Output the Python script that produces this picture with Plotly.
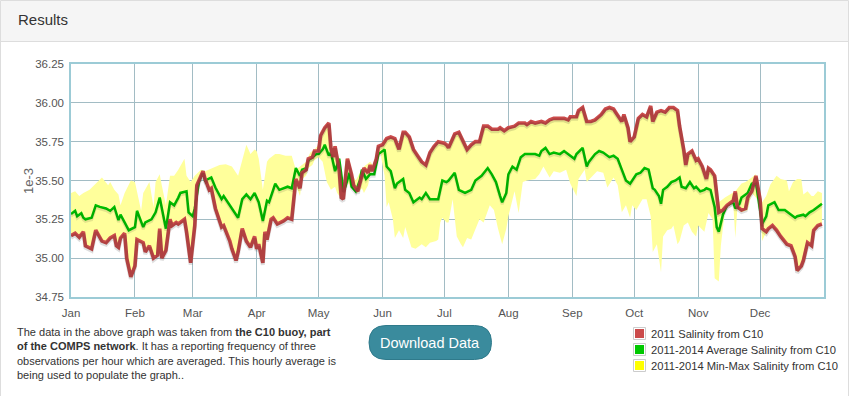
import plotly.graph_objects as go

# ---------------- data (day of year 2011, value) ----------------
MONTH_START_DAYS = [0, 31, 59, 90, 120, 151, 181, 212, 243, 273, 304, 334]
MONTH_LABELS = ["Jan", "Feb", "Mar", "Apr", "May", "Jun", "Jul", "Aug", "Sep", "Oct", "Nov", "Dec"]
Y_TICKS = [34.75, 35.00, 35.25, 35.50, 35.75, 36.00, 36.25]

RED_DAYS = [0, 2, 4, 6, 7, 10, 12, 14, 15, 17, 19, 21, 22, 23, 24, 26, 27, 29, 31, 32, 35, 36, 38, 40, 42, 43, 44, 46,
            48, 49, 51, 52, 55, 56, 58, 60, 61, 64, 65, 67, 68, 70, 73, 74, 77, 78, 80, 81, 83, 85, 87, 89, 90, 91, 93,
            94, 95, 97, 98, 100, 103, 105, 107, 109, 111, 112, 114, 115, 117, 118, 120, 121, 123, 125, 126, 127, 128,
            130, 131, 132, 134, 136, 137, 139, 141, 142, 144, 145, 146, 148, 149, 151, 153, 155, 157, 159, 161, 162,
            164, 166, 168, 170, 172, 174, 176, 178, 181, 182, 183, 185, 186, 188, 189, 190, 192, 194, 196, 198, 200,
            202, 204, 207, 208, 210, 212, 215, 217, 220, 221, 223, 225, 228, 230, 232, 234, 237, 239, 241, 242, 245,
            246, 248, 250, 252, 254, 257, 259, 261, 263, 264, 267, 268, 270, 271, 273, 275, 277, 279, 281, 282, 284,
            286, 288, 290, 292, 294, 295, 297, 298, 299, 301, 303, 304, 306, 308, 309, 310, 312, 314, 316, 318, 321,
            322, 323, 325, 327, 328, 330, 332, 334, 335, 337, 338, 340, 342, 344, 347, 349, 351, 352, 354, 355, 357,
            359, 360, 362, 364]
RED_VALS = [35.145, 35.16, 35.135, 35.17, 35.08, 35.06, 35.18, 35.13, 35.11, 35.10, 35.13, 35.145, 35.08, 35.07, 35.13,
            35.16, 35.00, 34.88, 34.95, 35.12, 35.10, 35.04, 35.08, 35.00, 35.02, 35.19, 35.00, 35.05,
            35.25, 35.21, 35.23, 35.22, 35.25, 35.17, 34.97, 35.21, 35.47, 35.56, 35.51, 35.44, 35.45, 35.32, 35.20,
            35.21, 35.11, 35.06, 34.985, 35.04, 35.19, 35.11, 35.07, 35.14, 35.06, 35.09, 34.97,
            35.17, 35.12, 35.25, 35.26, 35.22, 35.24, 35.26, 35.25, 35.51, 35.45, 35.55, 35.57, 35.64, 35.65, 35.69,
            35.69, 35.79, 35.84, 35.87, 35.71, 35.65, 35.72,
            35.57, 35.39, 35.38, 35.64, 35.54, 35.47, 35.43, 35.54, 35.58, 35.55, 35.60, 35.56, 35.64, 35.72, 35.73,
            35.77, 35.78, 35.77, 35.70, 35.81, 35.81,
            35.78, 35.70, 35.66, 35.62, 35.60, 35.68, 35.72, 35.75, 35.74, 35.73, 35.71, 35.78, 35.80, 35.81, 35.78,
            35.75, 35.70, 35.73, 35.75, 35.75, 35.85,
            35.85, 35.83, 35.83, 35.84, 35.82, 35.84, 35.85, 35.87, 35.87, 35.86, 35.88, 35.87, 35.88, 35.87, 35.89,
            35.90, 35.90, 35.90, 35.89, 35.91, 35.91,
            35.95, 35.97, 35.88, 35.88, 35.89, 35.925, 35.96, 35.97, 35.96, 35.94, 35.88, 35.925, 35.84, 35.75, 35.78,
            35.90, 35.925, 35.91, 35.98, 35.88, 35.94,
            35.95, 35.94, 35.97, 35.97, 35.95, 35.85, 35.70, 35.60, 35.67, 35.69, 35.63, 35.64, 35.59, 35.51, 35.58,
            35.57, 35.53, 35.295, 35.31, 35.34, 35.37,
            35.43, 35.33, 35.31, 35.32, 35.39, 35.43, 35.53, 35.38, 35.19, 35.17, 35.19, 35.21, 35.18, 35.14, 35.09,
            35.08, 35.01, 34.92, 34.95, 34.985, 35.10,
            35.08, 35.18, 35.21, 35.22]

GREEN_DAYS = [0, 2, 3, 5, 6, 7, 10, 12, 14, 17, 19, 21, 23, 24, 26, 28, 31, 32, 35, 36, 39, 41, 43, 44, 46, 48, 50, 52,
              53, 56, 57, 59, 60, 62, 64, 65, 68, 70, 73, 74, 77, 79, 81, 83, 85, 87, 89, 91, 93, 95, 96, 98, 99, 101,
              103, 105, 107, 109, 111, 112, 114, 115, 117, 119, 120, 122, 123, 125, 126, 128, 130, 132, 133, 135, 136,
              138, 140, 141, 143, 145, 147, 149, 152, 153, 155, 157, 158, 161, 162, 164, 166, 169, 170, 172, 174, 176,
              178, 180, 182, 183, 185, 186, 188, 190, 191, 194, 196, 199, 202, 204, 206, 208, 209, 211, 212, 214, 216,
              218, 220, 223, 225, 227, 228, 230, 232, 234, 237, 239, 241, 244, 245, 248, 250, 251, 254, 256, 258, 261,
              263, 265, 267, 269, 271, 272, 274, 276, 278, 280, 282, 283, 285, 286, 287, 289, 291, 293, 295, 296, 298,
              300, 302, 303, 305, 307, 308, 310, 312, 313, 314, 316, 318, 321, 322, 324, 325, 328, 330, 332, 334, 335,
              337, 338, 341, 343, 346, 348, 351, 352, 355, 356, 358, 360, 361, 364]
GREEN_VALS = [35.284, 35.305, 35.27, 35.29, 35.26, 35.25, 35.26, 35.34, 35.33, 35.32, 35.305, 35.33, 35.245, 35.28,
              35.23, 35.18, 35.20, 35.305, 35.20, 35.23, 35.25, 35.295, 35.39, 35.32, 35.19, 35.36, 35.34, 35.39,
              35.42, 35.43, 35.295, 35.27, 35.32, 35.49, 35.56, 35.50, 35.52, 35.455, 35.38, 35.40, 35.34, 35.295,
              35.26, 35.38, 35.41, 35.38, 35.42, 35.36, 35.24, 35.37, 35.36, 35.44, 35.48, 35.44,
              35.45, 35.46, 35.45, 35.58, 35.53, 35.57, 35.58, 35.63, 35.65, 35.67, 35.67, 35.70, 35.73, 35.66, 35.68,
              35.56, 35.64, 35.44, 35.46, 35.55, 35.46,
              35.43, 35.50, 35.57, 35.51, 35.54, 35.54, 35.67, 35.70, 35.59, 35.56, 35.45, 35.48, 35.51, 35.44, 35.42,
              35.36, 35.39, 35.38, 35.42, 35.38, 35.38,
              35.38, 35.50, 35.49, 35.50, 35.53, 35.55, 35.44, 35.43, 35.42, 35.44, 35.50, 35.53, 35.58, 35.54, 35.49,
              35.40, 35.36, 35.42, 35.54, 35.59, 35.57,
              35.65, 35.67, 35.67, 35.67, 35.66, 35.69, 35.71, 35.67, 35.68, 35.67, 35.69, 35.67, 35.64, 35.67, 35.71,
              35.59, 35.62, 35.67, 35.69, 35.68, 35.65,
              35.66, 35.64, 35.57, 35.50, 35.48, 35.50, 35.54, 35.55, 35.58, 35.57, 35.45, 35.44, 35.40, 35.35, 35.44,
              35.46, 35.49, 35.50, 35.52, 35.46, 35.45,
              35.49, 35.45, 35.46, 35.43, 35.44, 35.45, 35.44, 35.33, 35.20, 35.17, 35.28, 35.34, 35.36, 35.32, 35.35,
              35.39, 35.42, 35.48, 35.49, 35.295, 35.22,
              35.27, 35.34, 35.36, 35.31, 35.31, 35.29, 35.26, 35.27, 35.28, 35.27, 35.295, 35.31, 35.32, 35.35]

MAX_DAYS = [0, 2, 4, 6, 9, 12, 15, 18, 19, 21, 23, 24, 26, 29, 31, 34, 35, 38, 40, 41, 43, 44, 46, 48, 50, 52, 55, 56,
            58, 60, 63, 65, 69, 72, 75, 78, 81, 83, 85, 87, 89, 90, 91, 93, 95, 96, 99, 101, 104, 107, 109, 111, 114,
            116, 118, 120, 122, 124, 125, 127, 128, 130, 132, 133, 135, 136, 138, 140, 142, 145, 147, 149, 150, 152,
            153, 155, 157, 159, 161, 162, 164, 166, 168, 170, 172, 174, 176, 178, 181, 182, 183, 185, 186, 188, 189,
            190, 192, 194, 196, 198, 200, 202, 204, 207, 208, 210, 212, 215, 217, 220, 221, 223, 225, 228, 230, 232,
            234, 237, 239, 241, 242, 245, 246, 248, 250, 252, 254, 257, 259, 261, 263, 264, 267, 268, 270, 271, 273,
            275, 277, 279, 281, 282, 284, 286, 288, 290, 292, 294, 295, 297, 298, 299, 301, 303, 304, 306, 308, 309,
            310, 312, 314, 317, 322, 325, 327, 329, 332, 334, 335, 337, 339, 342, 344, 347, 348, 350, 352, 354, 355,
            357, 359, 360, 362, 364]
MAX_VALS = [35.42, 35.43, 35.40, 35.42, 35.44, 35.48, 35.52, 35.47, 35.49, 35.44, 35.41, 35.34, 35.42, 35.50, 35.49,
            35.305, 35.42, 35.49, 35.33, 35.49, 35.54, 35.47, 35.34, 35.53, 35.53, 35.57, 35.64, 35.53,
            35.49, 35.53, 35.57, 35.56, 35.58, 35.60, 35.605, 35.59, 35.53, 35.64, 35.73, 35.67, 35.70, 35.69, 35.64,
            35.44, 35.62, 35.64, 35.67, 35.67, 35.66, 35.66, 35.57, 35.59, 35.62,
            35.68, 35.70, 35.73, 35.80, 35.85, 35.87, 35.68, 35.73, 35.64, 35.47, 35.64, 35.64, 35.54, 35.50, 35.55,
            35.59, 35.62, 35.59, 35.68, 35.73, 35.74,
            35.77, 35.78, 35.77, 35.70, 35.81, 35.81, 35.78, 35.70, 35.66, 35.62, 35.60, 35.68, 35.72, 35.75, 35.74,
            35.73, 35.71, 35.78, 35.80, 35.81, 35.78,
            35.75, 35.70, 35.73, 35.75, 35.75, 35.85, 35.85, 35.83, 35.83, 35.84, 35.82, 35.84, 35.85, 35.87, 35.87,
            35.86, 35.88, 35.87, 35.88, 35.87, 35.89,
            35.90, 35.90, 35.90, 35.89, 35.91, 35.91, 35.95, 35.97, 35.88, 35.88, 35.89, 35.925, 35.96, 35.97, 35.96,
            35.94, 35.88, 35.925, 35.84, 35.75, 35.78,
            35.90, 35.925, 35.91, 35.98, 35.88, 35.94, 35.95, 35.94, 35.97, 35.97, 35.95, 35.85, 35.70, 35.60, 35.67,
            35.69, 35.63, 35.64, 35.59, 35.51, 35.58,
            35.57, 35.53, 35.36, 35.39, 35.43, 35.48, 35.49, 35.51, 35.54, 35.40, 35.36, 35.40, 35.475, 35.53, 35.51,
            35.50, 35.43, 35.49, 35.51, 35.51, 35.41,
            35.43, 35.40, 35.40, 35.43, 35.42]

MIN_DAYS = [0, 2, 4, 6, 7, 10, 12, 14, 15, 17, 19, 21, 22, 23, 24, 26, 27, 29, 31, 32, 35, 36, 38, 40, 42, 43, 44, 46,
            48, 49, 51, 52, 55, 56, 58, 60, 61, 64, 65, 67, 68, 70, 73, 74, 77, 78, 80, 81, 83, 85, 87, 89, 90, 91, 93,
            94, 95, 97, 98, 100, 103, 105, 107, 109, 111, 112, 114, 115, 117, 118, 120, 122, 124, 126, 128, 129, 131,
            132, 134, 136, 137, 139, 141, 142, 144, 145, 148, 150, 152, 153, 154, 156, 157, 159, 161, 162, 165, 167,
            170, 172, 174, 177, 178, 179, 180, 182, 183, 185, 187, 189, 190, 192, 194, 196, 198, 200, 203, 205, 207,
            209, 211, 212, 215, 217, 219, 221, 225, 227, 229, 232, 234, 237, 240, 242, 245, 246, 249, 250, 253, 255,
            258, 260, 263, 265, 267, 269, 271, 272, 274, 275, 277, 279, 281, 282, 284, 286, 287, 289, 291, 292, 294,
            295, 297, 299, 301, 303, 304, 307, 309, 311, 312, 314, 315, 317, 319, 321, 322, 323, 325, 328, 330, 334,
            335, 336, 337, 338, 340, 342, 344, 347, 349, 351, 352, 354, 355, 357, 359, 360, 362, 364]
MIN_VALS = [35.145, 35.16, 35.135, 35.17, 35.08, 35.06, 35.18, 35.13, 35.11, 35.10, 35.13, 35.145, 35.08, 35.07, 35.13,
            35.16, 35.00, 34.88, 34.95, 35.12, 35.10, 35.04, 35.08, 35.00, 35.02, 35.19, 35.00, 35.05,
            35.25, 35.21, 35.23, 35.22, 35.25, 35.17, 34.97, 35.21, 35.45, 35.54, 35.49, 35.43, 35.44, 35.32, 35.20,
            35.21, 35.11, 35.06, 34.985, 35.04, 35.19, 35.11, 35.07, 35.14, 35.06, 35.09, 34.97,
            35.17, 35.12, 35.25, 35.26, 35.22, 35.24, 35.26, 35.25, 35.47, 35.40, 35.51, 35.53, 35.58, 35.60, 35.63,
            35.65, 35.62, 35.49, 35.44, 35.46, 35.42, 35.385,
            35.38, 35.49, 35.45, 35.44, 35.42, 35.45, 35.42, 35.47, 35.54, 35.59, 35.675, 35.53, 35.33, 35.36, 35.25,
            35.13, 35.18, 35.13, 35.20, 35.07, 35.06,
            35.09, 35.07, 35.10, 35.11, 35.12, 35.23, 35.26, 35.23, 35.23, 35.38, 35.14, 35.09, 35.07, 35.13, 35.12,
            35.19, 35.25, 35.23, 35.34, 35.31, 35.19,
            35.09, 35.19, 35.27, 35.43, 35.29, 35.49, 35.50, 35.51, 35.54, 35.59, 35.52, 35.56, 35.55, 35.57, 35.48,
            35.40, 35.51, 35.57, 35.49, 35.53, 35.56,
            35.55, 35.455, 35.52, 35.47, 35.295, 35.34, 35.26, 35.34, 35.31, 35.33, 35.38, 35.38, 35.27, 35.04, 35.09,
            34.91, 35.14, 35.18, 35.19, 35.21, 35.09,
            35.11, 35.21, 35.23, 35.17, 35.14, 35.21, 35.17, 35.29, 35.25, 34.87, 34.85, 35.08, 35.31, 35.34, 35.36,
            35.13, 35.32, 35.295, 35.31, 35.42, 35.36,
            35.11, 35.14, 35.16, 35.18, 35.20, 35.17, 35.13, 35.08, 35.07, 35.00, 34.91, 34.94, 34.975, 35.09, 35.07,
            35.17, 35.20, 35.21]

LEGEND_LABELS = ["2011 Salinity from C10", "2011-2014 Average Salinity from C10", "2011-2014 Min-Max Salinity from C10"]
LEGEND_COLORS = ["#cb4b4b", "#00c800", "#ffff00"]

# ---------------- layout helpers (pixel -> paper) ----------------
W, H = 850, 396
ML, MR, MT, MB = 71, 26, 64, 99
PW, PH = W - ML - MR, H - MT - MB


def px(x):
    return (x - ML) / PW


def py(y):
    return (H - MB - y) / PH


FONT = "Liberation Sans, Helvetica, Arial, sans-serif"
Y_RANGE = [34.75, 36.25]
SHADOW_SHIFT = 2 * (Y_RANGE[1] - Y_RANGE[0]) / PH

fig = go.Figure()

# min-max band
fig.add_trace(go.Scatter(
    x=MAX_DAYS + MIN_DAYS[::-1], y=MAX_VALS + MIN_VALS[::-1],
    fill="toself", fillcolor="rgb(255,255,155)", mode="lines", line=dict(width=0),
    hoverinfo="skip", showlegend=False))

# shadows (same data drawn on a slightly shifted overlay axis)
fig.add_trace(go.Scatter(x=GREEN_DAYS, y=GREEN_VALS, mode="lines", yaxis="y2",
                         line=dict(color="rgba(0,0,0,0.10)", width=3), hoverinfo="skip", showlegend=False))
fig.add_trace(go.Scatter(x=RED_DAYS, y=RED_VALS, mode="lines", yaxis="y2",
                         line=dict(color="rgba(0,0,0,0.13)", width=4), hoverinfo="skip", showlegend=False))

fig.add_trace(go.Scatter(x=GREEN_DAYS, y=GREEN_VALS, mode="lines",
                         line=dict(color="#00c000", width=2.5), showlegend=False))
fig.add_trace(go.Scatter(x=RED_DAYS, y=RED_VALS, mode="lines",
                         line=dict(color="#cb4b4b", width=3.6), showlegend=False))

shapes = []
annotations = []

# panel border + header
shapes.append(dict(type="rect", xref="paper", yref="paper", x0=px(0.5), x1=px(848.5), y0=py(420), y1=py(0.5),
                   line=dict(color="#dddddd", width=1), fillcolor="white", layer="below"))
shapes.append(dict(type="rect", xref="paper", yref="paper", x0=px(1), x1=px(848), y0=py(41), y1=py(1),
                   line=dict(width=0), fillcolor="#f5f5f5", layer="below"))
shapes.append(dict(type="line", xref="paper", yref="paper", x0=px(1), x1=px(848), y0=py(41.5), y1=py(41.5),
                   line=dict(color="#dddddd", width=1)))
annotations.append(dict(text="Results", xref="paper", yref="paper", x=px(16), y=py(20), xanchor="left",
                        yanchor="middle", showarrow=False, font=dict(family=FONT, size=15, color="#333333")))

# y axis title
annotations.append(dict(text="1e-3", xref="paper", yref="paper", x=px(28), y=py(181), xanchor="center",
                        yanchor="middle", textangle=-90, showarrow=False,
                        font=dict(family=FONT, size=13, color="#666666")))

# description text
annotations.append(dict(
    text=("The data in the above graph was taken from <b>the C10 buoy, part</b><br>"
          "<b>of the COMPS network</b>. It has a reporting frequency of three<br>"
          "observations per hour which are averaged. This hourly average is<br>"
          "being used to populate the graph.."),
    xref="paper", yref="paper", x=px(15), y=py(324), xanchor="left", yanchor="top", align="left",
    showarrow=False, font=dict(family=FONT, size=11, color="#333333")))

# download button (rounded pill)
bx0, bx1, by0, by1 = 369, 491.5, 325.5, 359.5
r = (by1 - by0) / 2
path = (f"M {px(bx0 + r)},{py(by0)} L {px(bx1 - r)},{py(by0)} "
        f"Q {px(bx1)},{py(by0)} {px(bx1)},{py(by0 + r)} "
        f"Q {px(bx1)},{py(by1)} {px(bx1 - r)},{py(by1)} "
        f"L {px(bx0 + r)},{py(by1)} "
        f"Q {px(bx0)},{py(by1)} {px(bx0)},{py(by0 + r)} "
        f"Q {px(bx0)},{py(by0)} {px(bx0 + r)},{py(by0)} Z")
shapes.append(dict(type="path", xref="paper", yref="paper", path=path, fillcolor="#3a8b9d",
                   line=dict(color="#2f7a8b", width=1)))
annotations.append(dict(text="Download Data", xref="paper", yref="paper", x=px((bx0 + bx1) / 2),
                        y=py((by0 + by1) / 2), xanchor="center", yanchor="middle", showarrow=False,
                        font=dict(family=FONT, size=14.5, color="white")))

# custom legend
for i, (lab, col) in enumerate(zip(LEGEND_LABELS, LEGEND_COLORS)):
    yc = 333.5 + 16 * i
    shapes.append(dict(type="rect", xref="paper", yref="paper", x0=px(633.5), x1=px(645.5),
                       y0=py(yc + 6), y1=py(yc - 6), line=dict(color="#cccccc", width=1), fillcolor="white"))
    shapes.append(dict(type="rect", xref="paper", yref="paper", x0=px(635), x1=px(644),
                       y0=py(yc + 4.5), y1=py(yc - 4.5), line=dict(width=0), fillcolor=col))
    annotations.append(dict(text=lab, xref="paper", yref="paper", x=px(649), y=py(yc), xanchor="left",
                            yanchor="middle", showarrow=False, font=dict(family=FONT, size=11.2, color="#333333")))

fig.update_layout(
    width=W, height=H, margin=dict(l=ML, r=MR, t=MT, b=MB),
    paper_bgcolor="white", plot_bgcolor="#c5dee5",
    shapes=shapes, annotations=annotations, showlegend=False,
    font=dict(family=FONT, size=11.5, color="#545454"),
    xaxis=dict(range=[0, 365], tickmode="array", tickvals=MONTH_START_DAYS, ticktext=MONTH_LABELS,
               showgrid=True, gridcolor="#a2bcc4", gridwidth=1, zeroline=False,
               showline=True, mirror=True, linecolor="#9ccbd6", linewidth=1.5,
               ticks="outside", ticklen=4, tickcolor="rgba(0,0,0,0)",
               tickfont=dict(family=FONT, size=11.5, color="#545454")),
    yaxis=dict(range=Y_RANGE, tickmode="array", tickvals=Y_TICKS, tickformat=".2f",
               showgrid=True, gridcolor="#a2bcc4", gridwidth=1, zeroline=False,
               showline=True, mirror=True, linecolor="#9ccbd6", linewidth=1.5,
               ticks="outside", ticklen=3, tickcolor="rgba(0,0,0,0)",
               tickfont=dict(family=FONT, size=11.5, color="#545454")),
    yaxis2=dict(range=[Y_RANGE[0] + SHADOW_SHIFT, Y_RANGE[1] + SHADOW_SHIFT], overlaying="y",
                visible=False, showgrid=False),
)

fig.write_html("out.html", config={"displayModeBar": False},
               post_script="document.body.style.margin='0px';document.body.style.overflow='hidden';")
